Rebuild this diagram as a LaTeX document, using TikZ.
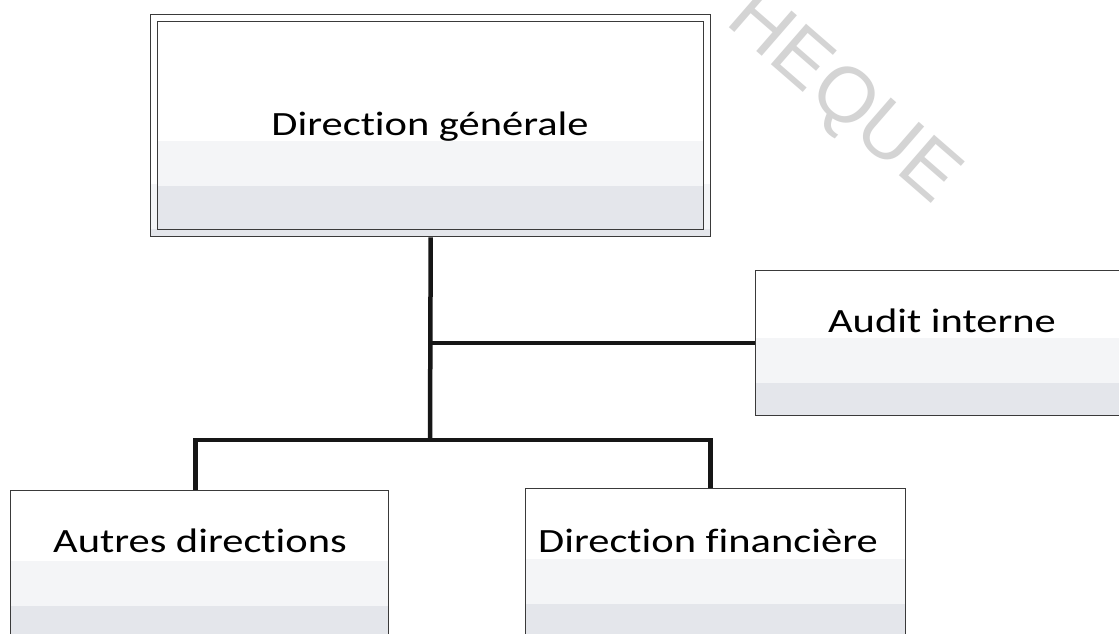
\documentclass[tikz,border=0pt]{standalone}
\usepackage{fontspec}
\newfontfamily\boxfont{Carlito}[FakeStretch=1.25, Ligatures={NoCommon}]
\newfontfamily\wmfont{Liberation Sans}
\definecolor{boxline}{HTML}{3A3A3A}
\definecolor{bandcol}{HTML}{E4E6EB}
\definecolor{midband}{HTML}{F4F5F7}
\definecolor{wmcol}{HTML}{D4D4D4}
\definecolor{conncol}{HTML}{161616}
\tikzset{
  orgbox/.style={draw=boxline, line width=1.4pt, fill=white, inner sep=0pt, anchor=north west},
  band/.style={path picture={
     \fill[midband] ([yshift=#1+45pt]path picture bounding box.south west) rectangle ([yshift=#1]path picture bounding box.south east);
     \fill[bandcol] (path picture bounding box.south west) rectangle ([yshift=#1]path picture bounding box.south east);}},
  boxtext/.style={font=\boxfont\fontsize{34}{40}\selectfont, text=black, inner sep=0pt, anchor=base},
  conn/.style={draw=conncol, line width=4.5pt},
  watermark/.style={font=\wmfont\fontsize{78}{80}\selectfont, text=wmcol, rotate=-41, inner sep=0pt}
}
\begin{document}
\begin{tikzpicture}[x=1pt,y=-1pt]
\useasboundingbox (0,0) rectangle (1119,634);
\clip (0,0) rectangle (1119,634);
\fill[white] (0,0) rectangle (1119,634);
% watermark
\node[watermark] (wm) at (842,100) {HEQUE};
% boxes
\node[orgbox, minimum width=560pt, minimum height=222pt, band=8pt] (dgo) at (150,14) {};
\node[draw=boxline, line width=1.4pt, inner sep=0pt, minimum width=546pt, minimum height=208pt, anchor=north west, band=44pt] (dg) at (157,21) {};
\node[orgbox, minimum width=380pt, minimum height=145pt, band=33pt] (ai) at (755,270) {};
\node[orgbox, minimum width=378pt, minimum height=170pt, band=55pt] (ad) at (10,490) {};
\node[orgbox, minimum width=380pt, minimum height=170pt, band=55pt] (df) at (525,488) {};
% texts
\node[boxtext] (tdg) at (430,135) {Direction générale};
\node[boxtext] (tai) at (942,332) {Audit interne};
\node[boxtext] (tad) at (200,552) {Autres directions};
\node[boxtext] (tdf) at (708,552) {Direction financière};
% connectors
\coordinate (jb) at (430,440);
\draw[conn] (dgo.south) -- (jb);
\draw[conn] (dgo.south |- ai.west) -- (ai.west);
\draw[conn] ([xshift=-4pt]ad.north) |- (jb) -| ([xshift=-5pt]df.north);
\end{tikzpicture}
\end{document}
